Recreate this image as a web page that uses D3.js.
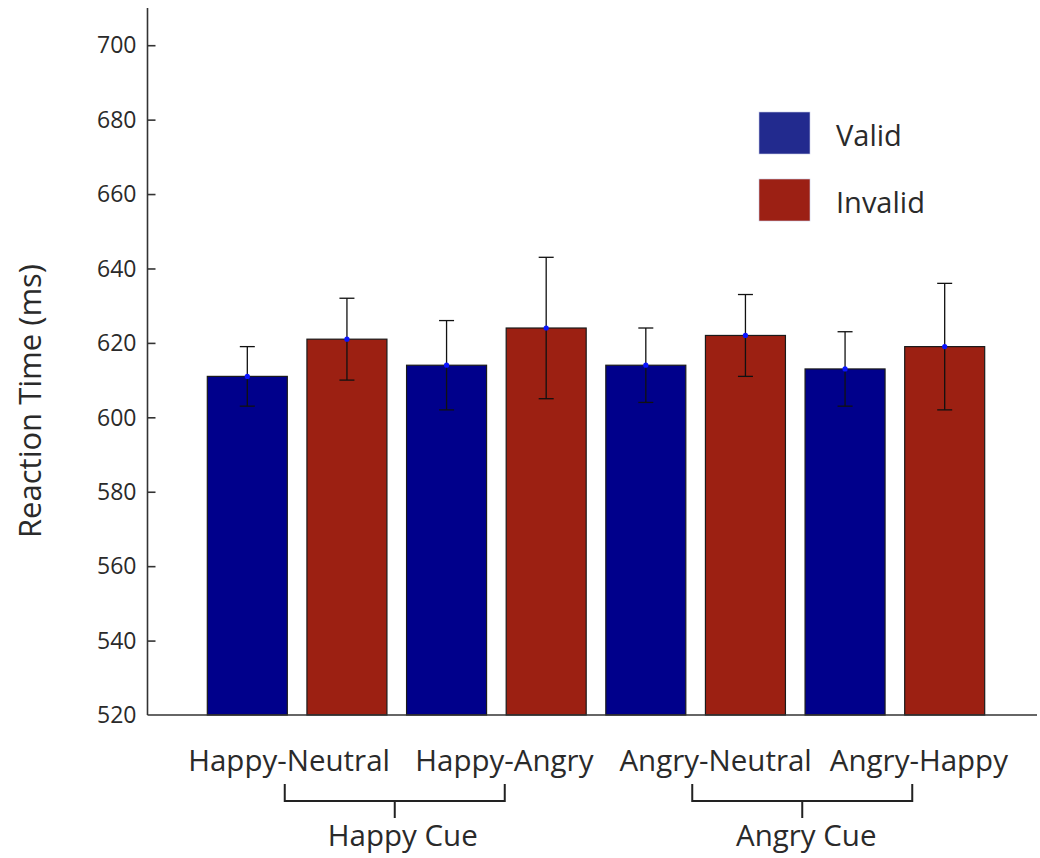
<!DOCTYPE html>
<html>
<head>
<meta charset="utf-8">
<script src="https://cdn.jsdelivr.net/npm/d3@7"></script>
<style>
  html, body { margin: 0; padding: 0; background: #fff; }
  svg { display: block; }
  text { font-family: "Open Sans", "Noto Sans", sans-serif; fill: #222; }
</style>
</head>
<body>
<svg id="chart" width="1040" height="858"></svg>
<script>
// ---- data ----
const categories = ["Happy-Neutral", "Happy-Angry", "Angry-Neutral", "Angry-Happy"];
const seriesNames = ["Valid", "Invalid"];
const validMeans   = [611, 614, 614, 613];
const invalidMeans = [621, 624, 622, 619];
const validErrLow   = [603, 602, 604, 603];
const validErrHigh  = [619, 626, 624, 623];
const invalidErrLow  = [610, 605, 611, 602];
const invalidErrHigh = [632, 643, 633, 636];
const cueGroups = ["Happy Cue", "Angry Cue"];
const cueMembers = [[0, 1], [2, 3]];
const yTicks = [520, 540, 560, 580, 600, 620, 640, 660, 680, 700];
const yLabel = "Reaction Time (ms)";

// ---- layout / style ----
const colors = { Valid: "#00008b", Invalid: "#9c2012" };
const legendColors = { Valid: "#222a8e", Invalid: "#9c2014" };
const axisX = 147.5, baseY = 715, topY = 8, rightX = 1037;

const svg = d3.select("#chart");

const y = d3.scaleLinear().domain([520, 710]).range([baseY, topY]);
const x0 = d3.scaleBand().domain(categories).range([197.5, 994.5]).padding(0);
const x1 = d3.scaleBand().domain(seriesNames).range([0, x0.bandwidth()])
  .paddingInner(0.197).paddingOuter(0.0985);

const rows = [];
categories.forEach((c, i) => {
  rows.push({ cat: c, s: "Valid", v: validMeans[i], lo: validErrLow[i], hi: validErrHigh[i] });
  rows.push({ cat: c, s: "Invalid", v: invalidMeans[i], lo: invalidErrLow[i], hi: invalidErrHigh[i] });
});

// bars
svg.append("g").selectAll("rect").data(rows).join("rect")
  .attr("x", d => x0(d.cat) + x1(d.s))
  .attr("y", d => y(d.v))
  .attr("width", x1.bandwidth())
  .attr("height", d => baseY - y(d.v))
  .attr("fill", d => colors[d.s])
  .attr("stroke", "#1a1a1a")
  .attr("stroke-width", 1.2);

// error bars
const cx = d => x0(d.cat) + x1(d.s) + x1.bandwidth() / 2;
const eg = svg.append("g").attr("stroke", "#111").attr("stroke-width", 1.3);
eg.selectAll("line.v").data(rows).join("line").attr("class", "v")
  .attr("x1", cx).attr("x2", cx).attr("y1", d => y(d.lo)).attr("y2", d => y(d.hi));
eg.selectAll("line.t").data(rows).join("line").attr("class", "t")
  .attr("x1", d => cx(d) - 7.5).attr("x2", d => cx(d) + 7.5).attr("y1", d => y(d.hi)).attr("y2", d => y(d.hi));
eg.selectAll("line.b").data(rows).join("line").attr("class", "b")
  .attr("x1", d => cx(d) - 7.5).attr("x2", d => cx(d) + 7.5).attr("y1", d => y(d.lo)).attr("y2", d => y(d.lo));
svg.append("g").selectAll("circle").data(rows).join("circle")
  .attr("cx", cx).attr("cy", d => y(d.v)).attr("r", 2.6).attr("fill", "#0a14ff");

// y axis
const yAxis = d3.axisRight(y).tickValues(yTicks.filter(t => t > 520)).tickSize(8).tickFormat("");
const ya = svg.append("g").attr("transform", `translate(${axisX},0)`).call(yAxis);
ya.select(".domain").attr("stroke", "#333").attr("stroke-width", 1.6)
  .attr("d", `M0,${topY}V${baseY}`);
ya.selectAll(".tick line").attr("stroke", "#333").attr("stroke-width", 1.6);
svg.append("g").selectAll("text").data(yTicks).join("text")
  .attr("x", axisX - 11).attr("y", d => y(d)).attr("dy", "0.36em")
  .attr("text-anchor", "end").style("font-size", "23px").style("fill", "#2a2a2a")
  .text(d => d);

// x baseline
svg.append("line").attr("x1", axisX).attr("x2", rightX).attr("y1", baseY).attr("y2", baseY)
  .attr("stroke", "#333").attr("stroke-width", 1.6);

// y label
svg.append("text")
  .attr("transform", `translate(41,${401}) rotate(-90)`)
  .attr("text-anchor", "middle").style("font-size", "31px").style("fill", "#2a2a2a")
  .text(yLabel);

// category labels
const labelNudge = [-8, 8, 20, 24];
svg.append("g").selectAll("text").data(categories).join("text")
  .attr("x", (d, i) => x0(d) + x0.bandwidth() / 2 + labelNudge[i])
  .attr("y", 771).attr("text-anchor", "middle")
  .style("font-size", "29.5px").style("fill", "#2a2a2a")
  .text(d => d);

// cue brackets
const bracketNudge = [-2, 7];
const bracketHalf = 110;
cueGroups.forEach((g, gi) => {
  const [a, b] = cueMembers[gi];
  const mid = (x0(categories[a]) + x0(categories[b]) + x0.bandwidth()) / 2 + bracketNudge[gi];
  const bg = svg.append("g").attr("stroke", "#222").attr("stroke-width", 2).attr("fill", "none");
  bg.append("path").attr("d",
    `M${mid - bracketHalf},784V801H${mid + bracketHalf}V784M${mid},801V818`);
  svg.append("text").attr("x", mid + 8 - gi * 4).attr("y", 846)
    .attr("text-anchor", "middle").style("font-size", "29.5px").style("fill", "#2a2a2a")
    .text(g);
});

// legend
const lg = svg.append("g");
seriesNames.forEach((s, i) => {
  const yy = 112 + i * 67;
  lg.append("rect").attr("x", 759).attr("y", yy).attr("width", 51).attr("height", 42)
    .attr("fill", legendColors[s]).attr("stroke", "#c8cbe6").attr("stroke-width", 0.6);
  lg.append("text").attr("x", 836).attr("y", yy + 34)
    .style("font-size", "29px").style("fill", "#2a2a2a").text(s);
});
</script>
</body>
</html>
